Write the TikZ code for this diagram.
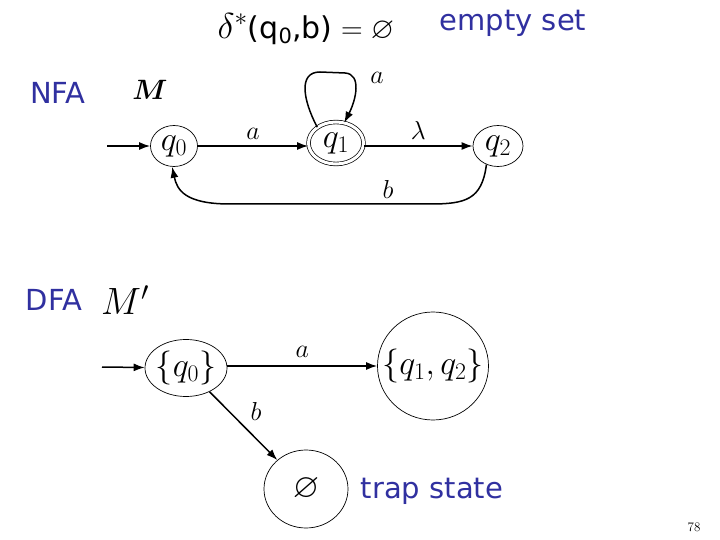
\RequirePackage{fix-cm}
\documentclass[tikz,border=0pt]{standalone}
\usepackage{amsmath}
\usepackage{amssymb}
\usepackage{fontspec}
\usetikzlibrary{shapes.geometric,arrows.meta}
\newfontfamily\comicfont{DejaVu Sans}
\definecolor{slideblue}{RGB}{48,48,160}
\tikzset{
  state/.style={draw,ellipse,line width=0.7pt,inner sep=0pt,font=\fontsize{34}{34}\selectfont},
  edge/.style={line width=1.5pt,-{Latex[length=11pt,width=8pt]}},
  lbl/.style={font=\fontsize{26}{26}\selectfont},
  bluetxt/.style={text=slideblue,font=\comicfont\fontsize{29}{29}\selectfont},
}

\begin{document}
\begin{tikzpicture}[x=1pt,y=-1pt]
    \useasboundingbox (0,0) rectangle (720,540);
    \node[font=\fontsize{30}{30}\selectfont,inner sep=0pt] (title) at (306,29) {{\fontsize{36}{36}\selectfont$\delta^{*}$}{\comicfont(q\textsubscript{0},b)}${}=\varnothing$};
    \node[bluetxt] (emptyset) at (513,23) {empty set};

    \node[bluetxt] (nfa) at (58,93) {NFA};
    \node[font=\fontsize{28}{28}\selectfont] (m) at (150,90) {$\boldsymbol{M}$};
    \node[state,minimum width=47pt,minimum height=41pt] (q0) at (174,146) {$q_0$};
    \node[state,minimum width=55pt,minimum height=42pt,double,double distance=3pt] (q1) at (336,143) {$q_1$};
    \node[state,minimum width=50pt,minimum height=41pt] (q2) at (498,146) {$q_2$};
    \coordinate (s0) at (107,146);
    \draw[edge] (s0) -- (q0);
    \draw[edge] (q0) -- node[lbl,above,yshift=2pt] (la) {$a$} (q1.west|-q0);
    \draw[edge] (q1.east|-q2) -- node[lbl,above,yshift=2pt] (ll) {$\lambda$} (q2);
    \draw[edge] (q1.140) .. controls (303,100) and (298,72) .. (320,72) -- (345,73) .. controls (362,74) and (356,100) .. (q1.68);
    \node[lbl] (la1) at (377,78) {$a$};
    \draw[edge] (q2.238) .. controls (482,200) and (465,204) .. (430,204) -- (230,204) .. controls (185,204) and (177,190) .. (q0.265);
    \node[lbl] (lb) at (388,189) {$b$};

    \node[bluetxt] (dfa) at (54,300) {DFA};
    \node[font=\fontsize{38}{38}\selectfont] (mp) at (125,300) {$M'$};
    \node[state,minimum width=82pt,minimum height=57pt,inner sep=-6pt] (Q0) at (186,368) {$\{q_0\}$};
    \node[state,minimum width=111pt,minimum height=108pt,inner sep=-12pt] (Q12) at (433,366) {$\{q_1,q_2\}$};
    \node[state,minimum width=84pt,minimum height=78pt] (E) at (306,489) {$\varnothing$};
    \coordinate (s1) at (102,367);
    \draw[edge] (s1) -- (Q0);
    \draw[edge] (Q0.east|-Q12) -- node[lbl,above,yshift=4pt] (la2) {$a$} (Q12);
    \draw[edge] (Q0) -- (E);
    \node[lbl] (lb2) at (256,411) {$b$};
    \node[bluetxt] (trap) at (432,491) {trap state};

    \node[font=\fontsize{13}{13}\selectfont] (page) at (694,527) {78};
\end{tikzpicture}
\end{document}
